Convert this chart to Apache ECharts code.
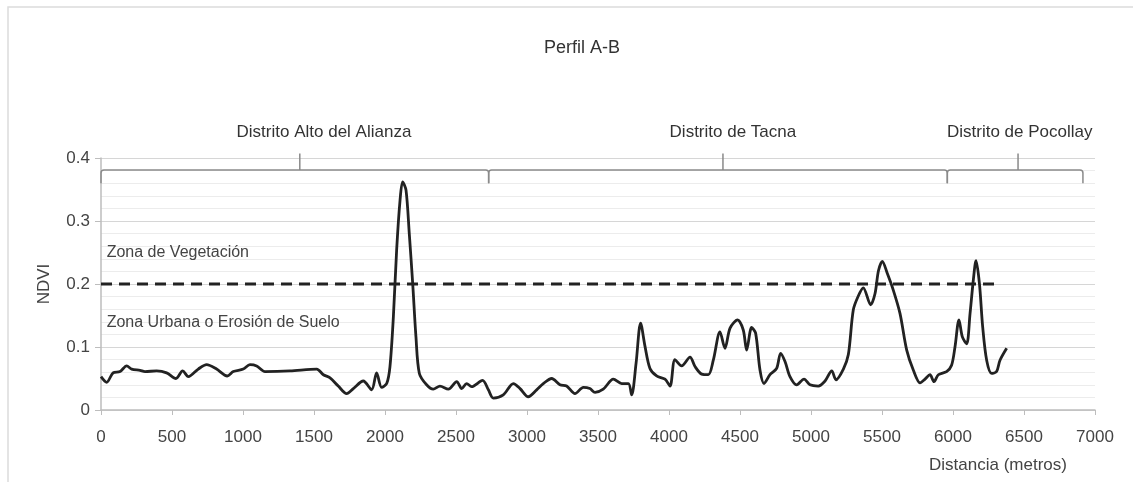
<!DOCTYPE html>
<html>
<head>
<meta charset="utf-8">
<script src="https://cdn.jsdelivr.net/npm/echarts@6/dist/echarts.min.js"></script>
<style>html,body{margin:0;padding:0;background:#fff;}#chart{width:1133px;height:482px;}</style>
</head>
<body>
<div id="chart"></div>
<script>
// ---- data ----
const distance = [0,40,85,134,181,216,275,310,392,462,528,575,615,685,744,814,889,932,1002,1049,1096,1155,1331,1519,1566,1613,1671,1730,1777,1847,1906,1941,1976,2012,2035,2059,2082,2106,2124,2148,2171,2195,2218,2242,2293,2340,2387,2446,2505,2540,2575,2610,2687,2728,2763,2833,2904,2951,3009,3068,3115,3174,3232,3279,3338,3397,3443,3479,3537,3608,3667,3714,3737,3768,3800,3831,3866,3913,3972,4007,4042,4089,4148,4183,4230,4277,4312,4359,4394,4430,4483,4523,4547,4582,4610,4641,4669,4711,4758,4786,4817,4852,4899,4951,4993,5051,5099,5146,5176,5228,5263,5298,5333,5368,5420,5451,5475,5502,5537,5580,5627,5674,5721,5768,5803,5838,5866,5897,5955,5990,6014,6042,6066,6096,6120,6143,6162,6186,6209,6237,6272,6307,6331,6378];
const ndvi = [0.053,0.044,0.059,0.061,0.070,0.065,0.063,0.061,0.062,0.059,0.050,0.062,0.053,0.065,0.072,0.065,0.054,0.061,0.065,0.072,0.070,0.061,0.062,0.065,0.056,0.051,0.038,0.026,0.034,0.046,0.032,0.059,0.036,0.042,0.069,0.148,0.254,0.333,0.362,0.349,0.280,0.201,0.116,0.058,0.040,0.033,0.038,0.033,0.045,0.034,0.042,0.037,0.047,0.032,0.019,0.024,0.042,0.034,0.021,0.032,0.042,0.050,0.040,0.038,0.026,0.036,0.034,0.028,0.033,0.049,0.042,0.042,0.024,0.074,0.138,0.101,0.066,0.054,0.049,0.038,0.080,0.070,0.084,0.069,0.057,0.056,0.079,0.124,0.098,0.130,0.143,0.127,0.095,0.131,0.122,0.063,0.042,0.056,0.066,0.090,0.077,0.053,0.040,0.049,0.040,0.038,0.046,0.062,0.048,0.065,0.088,0.159,0.181,0.194,0.167,0.185,0.221,0.236,0.217,0.190,0.153,0.095,0.063,0.043,0.049,0.056,0.045,0.056,0.061,0.071,0.100,0.143,0.116,0.105,0.153,0.206,0.237,0.201,0.132,0.079,0.058,0.061,0.079,0.098];
const threshold = 0.2;
const thresholdRange = [0, 6317];
const districtNames = ["Distrito Alto del Alianza", "Distrito de Tacna", "Distrito de Pocollay"];
const districtStart = [0, 2730, 5960];
const districtEnd = [2730, 5960, 6915];
const districtMid = [1400, 4380, 6458];
const districtLabelX = [1570, 4450, 6470];
const xTicks = [0, 7000, 500];
const yTicks = [0, 0.4, 0.1];
const zoneLabels = ["Zona de Vegetación", "Zona Urbana o Erosión de Suelo"];

const FONT = '"Liberation Sans Narrow", "Arial Narrow", "Liberation Sans", sans-serif';

const lineData = distance.map((d, i) => [d, ndvi[i]]);
const braceData = districtNames.map((n, i) => [districtStart[i], districtEnd[i], districtMid[i], districtLabelX[i], n]);

const chart = echarts.init(document.getElementById('chart'), null, {renderer: 'canvas'});
chart.setOption({
  animation: false,
  backgroundColor: '#fff',
  title: {
    text: 'Perfil A-B', left: 577, top: 34, textAlign: 'center',
    textStyle: {fontFamily: FONT, fontSize: 18, fontWeight: 'normal', color: '#333'}
  },
  grid: {left: 101, right: 38, top: 158, bottom: 72, containLabel: false},
  xAxis: {
    type: 'value', min: xTicks[0], max: xTicks[1], interval: xTicks[2],
    axisLine: {show: true, lineStyle: {color: '#bdbdbd', width: 1.5}},
    axisTick: {show: true, length: 5, lineStyle: {color: '#bdbdbd'}},
    axisLabel: {fontFamily: FONT, fontSize: 17, color: '#444', margin: 19, formatter: v => String(v)},
    splitLine: {show: false}
  },
  yAxis: {
    type: 'value', min: yTicks[0], max: yTicks[1], interval: yTicks[2],
    name: 'NDVI', nameLocation: 'middle', nameGap: 48, nameRotate: 90,
    nameTextStyle: {fontFamily: FONT, fontSize: 17, color: '#444'},
    axisLine: {show: true, lineStyle: {color: '#bdbdbd', width: 1.5}},
    axisTick: {show: true, length: 6, lineStyle: {color: '#bdbdbd'}},
    axisLabel: {fontFamily: FONT, fontSize: 17, color: '#444', margin: 11, formatter: v => String(Math.round(v * 10) / 10)},
    splitLine: {show: true, lineStyle: {color: '#d6d6d6', width: 1.2}},
    minorTick: {show: false, splitNumber: 5},
    minorSplitLine: {show: true, lineStyle: {color: '#ececec', width: 1}}
  },
  graphic: [
    {type: 'rect', shape: {x: 8, y: 7, width: 1200, height: 600}, style: {fill: 'none', stroke: '#dcdcdc', lineWidth: 1.5}, silent: true},
    {type: 'text', left: 929, top: 457, style: {text: 'Distancia (metros)', font: '17px ' + FONT, fill: '#444'}}
  ],
  series: [
    {
      type: 'line', data: lineData, smooth: 0.3, symbol: 'none',
      lineStyle: {color: '#222', width: 2.8}, z: 5
    },
    {
      type: 'line', data: thresholdRange.map(x => [x, threshold]), symbol: 'none',
      lineStyle: {color: '#222', width: 3, type: [11, 7]}, z: 4
    },
    {
      type: 'custom', clip: false, silent: true, z: 3,
      data: zoneLabels.map((t, i) => [40, i === 0 ? 0.250 : 0.138, t]),
      renderItem: function (params, api) {
        const p = api.coord([api.value(0), api.value(1)]);
        return {type: 'text', style: {text: zoneLabels[params.dataIndex], x: p[0], y: p[1], textAlign: 'left', textVerticalAlign: 'middle', font: '16px ' + FONT, fill: '#444'}};
      }
    },
    {
      type: 'custom', clip: false, silent: true, z: 3,
      data: braceData,
      renderItem: function (params, api) {
        const x0 = api.coord([api.value(0), 0.381])[0];
        const x1 = api.coord([api.value(1), 0.381])[0];
        const xm = api.coord([api.value(2), 0.381])[0];
        const xl = api.coord([api.value(3), 0.381])[0];
        const yTop = api.coord([0, 0.381])[1];
        const yEnd = api.coord([0, 0.360])[1];
        const yTick = api.coord([0, 0.407])[1];
        const yText = api.coord([0, 0.441])[1];
        const r = 3;
        const path = 'M' + x0 + ',' + yEnd + ' L' + x0 + ',' + (yTop + r) + ' Q' + x0 + ',' + yTop + ' ' + (x0 + r) + ',' + yTop +
          ' L' + (x1 - r) + ',' + yTop + ' Q' + x1 + ',' + yTop + ' ' + x1 + ',' + (yTop + r) + ' L' + x1 + ',' + yEnd +
          ' M' + xm + ',' + yTop + ' L' + xm + ',' + yTick;
        return {
          type: 'group',
          children: [
            {type: 'path', shape: {pathData: path}, style: {fill: 'none', stroke: '#8a8a8a', lineWidth: 1.5}},
            {type: 'text', style: {text: braceData[params.dataIndex][4], x: xl, y: yText, textAlign: 'center', textVerticalAlign: 'middle', font: '17px ' + FONT, fill: '#333'}}
          ]
        };
      }
    }
  ]
});
</script>
</body>
</html>
